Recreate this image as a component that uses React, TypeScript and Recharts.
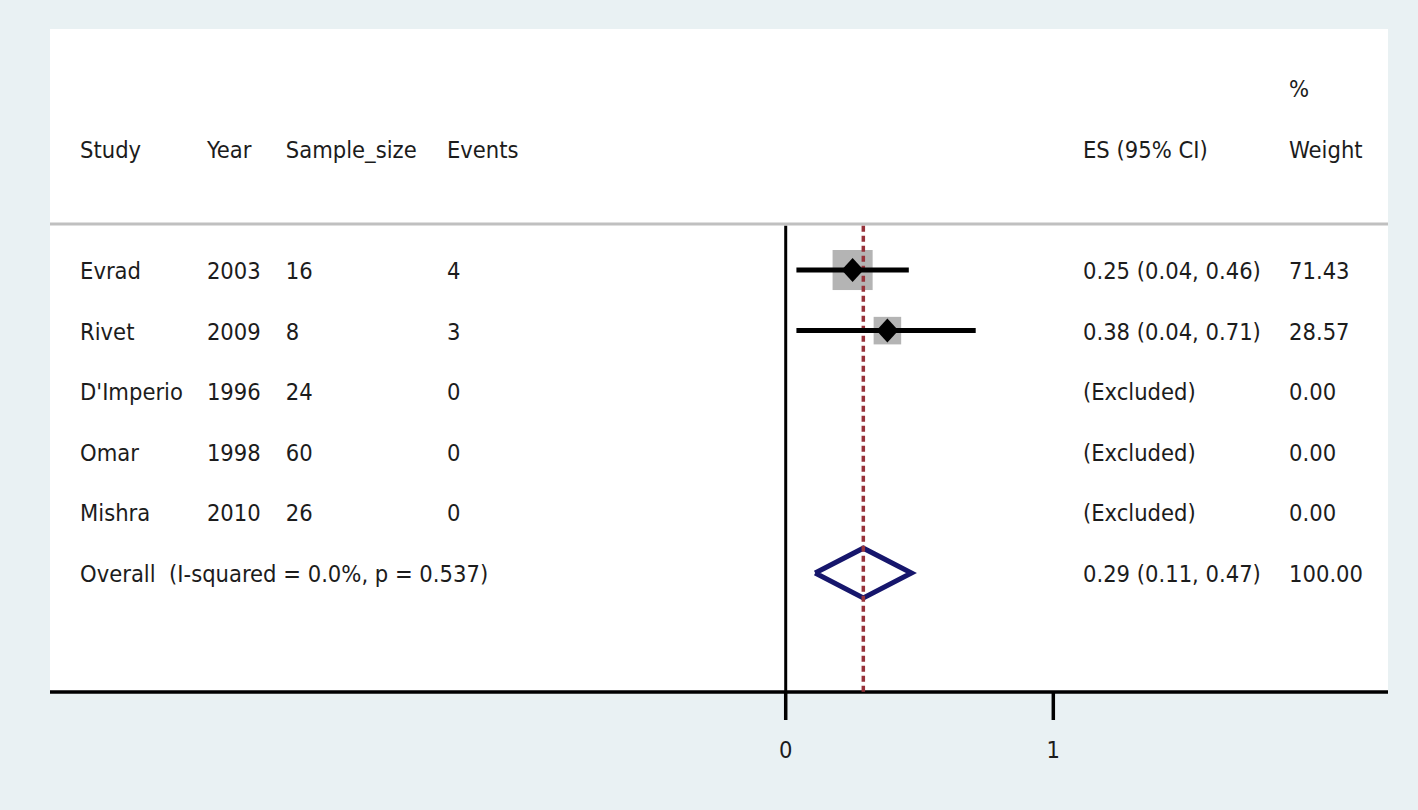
import React from 'react';
import { ComposedChart, Scatter, XAxis, YAxis, CartesianGrid, ReferenceLine } from 'recharts';

// study table
const studies = ['Evrad', 'Rivet', "D'Imperio", 'Omar', 'Mishra'];
const years = ['2003', '2009', '1996', '1998', '2010'];
const sampleSizes = ['16', '8', '24', '60', '26'];
const events = ['4', '3', '0', '0', '0'];
const effect = [0.25, 0.38, null, null, null];
const ciLow = [0.04, 0.04, null, null, null];
const ciHigh = [0.46, 0.71, null, null, null];
const weights = [71.43, 28.57, 0, 0, 0];

// pooled estimate
const overallLabel = 'Overall  (I-squared = 0.0%, p = 0.537)';
const overallEffect = 0.29;
const overallLow = 0.11;
const overallHigh = 0.47;
const overallWeight = 100;

const headerTop = ['', '', '', '', '', '%'];
const headerRow = ['Study', 'Year', 'Sample_size', 'Events', 'ES (95% CI)', 'Weight'];
const xTicks = [0, 1];

// layout (data units)
const X_MIN = -2.7493;
const X_MAX = 2.2507;
const Y_TOP = -2.977;
const Y_BOTTOM = 7.963;
const HEADER_LINE = 0.241;
const LINE_START = 0.27;
const colX = [-2.637, -2.163, -1.868, -1.266, 1.111, 1.881];

const FONT = "'DejaVu Sans Condensed', 'DejaVu Sans', sans-serif";
const TEXT_SIZE = 23.5;

const fmt = (v: number) => v.toFixed(2);

const cells: { x: number; y: number; text: string }[] = [];
headerTop.forEach((t, c) => t && cells.push({ x: colX[c], y: -2, text: t }));
headerRow.forEach((t, c) => cells.push({ x: colX[c], y: -1, text: t }));
studies.forEach((s, i) => {
  const row = i + 1;
  const esText = effect[i] == null ? '(Excluded)' : `${fmt(effect[i] as number)} (${fmt(ciLow[i] as number)}, ${fmt(ciHigh[i] as number)})`;
  [s, years[i], sampleSizes[i], events[i], esText, fmt(weights[i])].forEach((t, c) =>
    cells.push({ x: colX[c], y: row, text: t })
  );
});
const overallRow = studies.length + 1;
cells.push({ x: colX[0], y: overallRow, text: overallLabel });
cells.push({ x: colX[4], y: overallRow, text: `${fmt(overallEffect)} (${fmt(overallLow)}, ${fmt(overallHigh)})` });
cells.push({ x: colX[5], y: overallRow, text: fmt(overallWeight) });

const points = studies
  .map((s, i) => ({ x: effect[i], y: i + 1, w: weights[i] }))
  .filter((p) => p.x != null);

const ciSegments = studies
  .map((s, i) => (effect[i] == null ? null : [
    { x: ciLow[i], y: i + 1 },
    { x: ciHigh[i], y: i + 1 },
  ]))
  .filter(Boolean) as { x: number; y: number }[][];

const diamondHalf = 0.41;
const overallDiamond = [
  { x: overallLow, y: overallRow },
  { x: overallEffect, y: overallRow - diamondHalf },
  { x: overallHigh, y: overallRow },
  { x: overallEffect, y: overallRow + diamondHalf },
  { x: overallLow, y: overallRow },
];

const overallLine = [
  { x: overallEffect, y: LINE_START },
  { x: overallEffect, y: Y_BOTTOM },
];
const nullLine = [
  { x: 0, y: LINE_START },
  { x: 0, y: Y_BOTTOM },
];

const Nothing = () => <g />;

const WeightBox = (props: any) => {
  const { cx, cy, payload } = props;
  const side = 19.2 + 0.292 * payload.w;
  return <rect x={cx - side / 2} y={cy - side / 2} width={side} height={side} fill="#b4b4b4" />;
};

const Marker = (props: any) => {
  const { cx, cy } = props;
  return <path d={`M${cx - 11},${cy} L${cx},${cy - 12} L${cx + 11},${cy} L${cx},${cy + 12} Z`} fill="#000" />;
};

const Cell = (props: any) => {
  const { cx, cy, payload } = props;
  return (
    <text x={cx} y={cy + 1} dominantBaseline="central" fontFamily={FONT} fontSize={TEXT_SIZE} fill="#1c1c1c" style={{ whiteSpace: 'pre' }}>
      {payload.text}
    </text>
  );
};

const Tick = (props: any) => {
  const { x, y, payload } = props;
  return (
    <text x={x} y={y + 28} textAnchor="middle" dominantBaseline="central" fontFamily={FONT} fontSize={TEXT_SIZE} fill="#1c1c1c">
      {payload.value}
    </text>
  );
};

export default function App() {
  return (
    <div style={{ position: 'absolute', left: 0, top: 0, width: 1418, height: 810, background: '#e9f1f3' }}>
      <ComposedChart width={1418} height={810} margin={{ top: 29, right: 30, bottom: 58, left: 50 }}>
        <CartesianGrid horizontal={false} vertical={false} fill="#ffffff" stroke="none" />
        <XAxis
          type="number"
          dataKey="x"
          domain={[X_MIN, X_MAX]}
          allowDataOverflow
          ticks={xTicks}
          tickSize={28}
          height={60}
          axisLine={{ stroke: '#000', strokeWidth: 3.5 }}
          tickLine={{ stroke: '#000', strokeWidth: 3.5 }}
          tick={<Tick />}
        />
        <YAxis type="number" dataKey="y" domain={[Y_TOP, Y_BOTTOM]} allowDataOverflow reversed hide />
        <ReferenceLine y={HEADER_LINE} stroke="#c0c0c0" strokeWidth={3} />
        <Scatter data={points} shape={<WeightBox />} isAnimationActive={false} />
        <Scatter
          data={overallDiamond}
          shape={<Nothing />}
          line={{ stroke: '#16166c', strokeWidth: 5, strokeLinejoin: 'miter' }}
          isAnimationActive={false}
        />
        <Scatter
          data={overallLine}
          shape={<Nothing />}
          line={{ stroke: '#97333b', strokeWidth: 3.5, strokeDasharray: '6 4' }}
          isAnimationActive={false}
        />
        {ciSegments.map((seg, i) => (
          <Scatter key={i} data={seg} shape={<Nothing />} line={{ stroke: '#000', strokeWidth: 5 }} isAnimationActive={false} />
        ))}
        <Scatter data={points} shape={<Marker />} isAnimationActive={false} />
        <Scatter data={nullLine} shape={<Nothing />} line={{ stroke: '#000', strokeWidth: 3 }} isAnimationActive={false} />
        <Scatter data={cells} shape={<Cell />} isAnimationActive={false} />
      </ComposedChart>
    </div>
  );
}
